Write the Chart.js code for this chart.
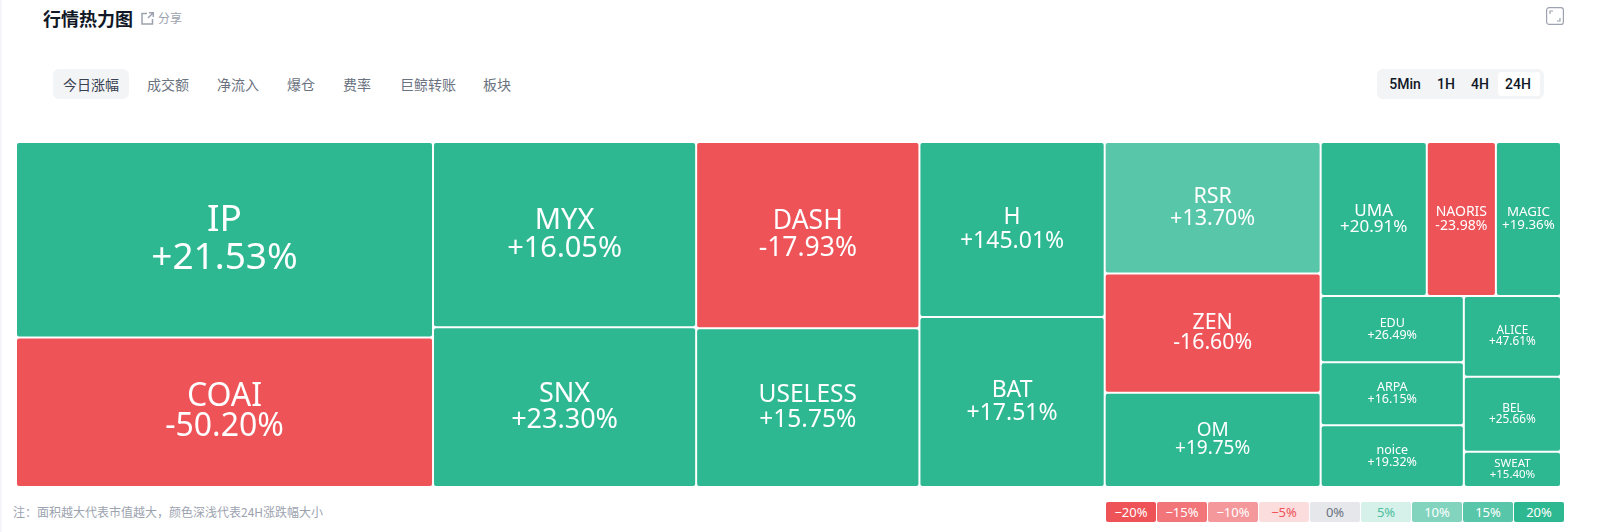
<!DOCTYPE html>
<html lang="zh-CN"><head><meta charset="utf-8">
<script src="https://cdn.jsdelivr.net/npm/chart.js@4/dist/chart.umd.js"></script>
<style>
html,body{margin:0;padding:0;background:#fff;width:1609px;height:532px;overflow:hidden;font-family:"Noto Sans CJK SC","Noto Sans",sans-serif}
.a{position:absolute;white-space:nowrap}
#edge{left:0;top:0;width:2px;height:532px;background:#F5F6FA}
#title{left:43px;top:5px;font-size:18px;line-height:26px;font-weight:700;color:#111827}
#share{left:158px;top:9px;font-size:12px;line-height:18px;color:#9CA3AF}
#tabOn{left:53px;top:69px;width:76px;height:30px;border-radius:6px;background:#F3F4F6}
.tab{top:73px;font-size:14px;line-height:22px;color:#6B7280}
#rangeBg{left:1377px;top:69px;width:167px;height:30px;border-radius:6px;background:#F3F4F6}
#rangeOn{left:1498px;top:72px;width:42px;height:24px;border-radius:3px;background:#fff}
.rng{top:73px;font-family:Roboto,sans-serif;font-weight:500;font-size:14px;line-height:22px;color:#111827;transform:translateX(-50%)}
#canvasBox{left:16px;top:142px;width:1545px;height:345px}
#note{left:13px;top:503px;font-size:12px;line-height:18px;color:#9CA3AF}
.sw{top:502px;width:50px;height:20px;border-radius:2px;font-size:13px;line-height:20px;text-align:center;font-family:"Noto Sans",sans-serif}
</style></head><body>
<div class="a" id="edge"></div>
<div class="a" id="title">行情热力图</div>
<svg class="a" style="left:141px;top:12px" width="13" height="13" viewBox="0 0 13 13" fill="none" stroke="#9CA3AF" stroke-width="1.5"><path d="M6 1.500H1v10.500h10.500V7M7 6l5-5M8 .8h4.300v4.300"/></svg>
<div class="a" id="share">分享</div>
<div class="a" id="tabOn"></div>
<div id="tabs"></div>
<div class="a" id="rangeBg"></div><div class="a" id="rangeOn"></div>
<div id="ranges"></div>
<svg class="a" style="left:1546px;top:7px" width="18" height="18" viewBox="0 0 18 18" fill="none"><rect x=".6" y=".6" width="16.800" height="16.800" rx="2.500" stroke="#9CA3AF" stroke-width="1.200"/><path d="M4 7V4h3M14 11v3h-3" stroke="#9CA3AF" stroke-width="1.200"/></svg>
<div class="a" id="canvasBox"><canvas id="c" width="1545" height="345"></canvas></div>
<div class="a" id="note">注&#xFF1A;面积越大代表市值越大&#xFF0C;颜色深浅代表24H涨跌幅大小</div>
<div id="legend"></div>
<script>
// ---- data ----
const symbols = ["IP","COAI","MYX","SNX","DASH","USELESS","H","BAT","RSR","ZEN","OM","UMA","NAORIS","MAGIC","EDU","ARPA","noice","ALICE","BEL","SWEAT"];
const changes = [21.53,-50.20,16.05,23.30,-17.93,15.75,145.01,17.51,13.70,-16.60,19.75,20.91,-23.98,19.36,26.49,16.15,19.32,47.61,25.66,15.40];
const marketCaps = [809.3,619.3,484.3,417.1,413.2,351.7,321.9,312.7,281.9,255.8,202.1,162.2,105.6,99.5,94.4,89.5,87.8,78.0,72.4,34.0];
const tabLabels = ["今日涨幅","成交额","净流入","爆仓","费率","巨鲸转账","板块"];
const rangeLabels = ["5Min","1H","4H","24H"];
const legendValues = [-20,-15,-10,-5,0,5,10,15,20];
// grouping of the treemap (symbol indexes; nested lists alternate columns / stacks)
const treeGroups = [[0,1],[2,3],[4,5],[6,7],[8,9,10],[[11,12,13],[[14,15,16],[17,18,19]]]];

// ---- styles ----
const labelStyle = {IP:[37,38],COAI:[32,30],MYX:[29,28],SNX:[27,26.500],DASH:[26.500,26.500],USELESS:[24.500,24.500],H:[23,23.500],BAT:[23,23],RSR:[21.500,21.500],ZEN:[21.300,20],OM:[19,18],UMA:[17,16.500],NAORIS:[14,13.500],MAGIC:[13.300,13],EDU:[12.500,12],ARPA:[12.500,12],noice:[12.500,12],ALICE:[11.800,11],BEL:[11.800,11],SWEAT:[11.500,10.500]};
const RED = "238,83,88", GREEN = "46,184,146";
function tierColor(v){
  const m = Math.abs(v);
  return `rgba(${v<0?RED:GREEN},${m >= 15 ? 1 : .8})`;
}
const legendAlpha = {20:1,15:.8,10:.6,5:.2};

// ---- page furniture ----
const tabX = [63,147,217,287,343,400,483];
tabLabels.forEach((t,i)=>{const d=document.createElement("div");d.className="a tab";d.textContent=t;d.style.left=tabX[i]+"px";if(i===0)d.style.color="#374151";document.getElementById("tabs").appendChild(d);});
const rangeX = [1405,1446,1480,1518];
rangeLabels.forEach((t,i)=>{const d=document.createElement("div");d.className="a rng";d.textContent=t;d.style.left=rangeX[i]+"px";document.getElementById("ranges").appendChild(d);});
legendValues.forEach((v,i)=>{
  const d=document.createElement("div");d.className="a sw";
  d.textContent=(v<0?"−":"")+Math.abs(v)+"%";
  d.style.left=(1106+51*i)+"px";
  d.style.background = v===0 ? "#E5E7EB" : `rgba(${v<0?RED:GREEN},${legendAlpha[Math.abs(v)]})`;
  d.style.color = v===0 ? "#6B7280" : v===-5 ? "#EF5358" : v===5 ? "#4DBE9F" : "#fff";
  document.getElementById("legend").appendChild(d);
});

// ---- slice-and-dice layout in data space: area is proportional to market cap ----
const weightOf = n => Array.isArray(n) ? n.reduce((s,c)=>s+weightOf(c),0) : marketCaps[n];
const cells = [];
const X_MAX = 100, Y_MAX = 100;
function placeNode(node,x0,y0,x1,y1,horizontal){
  if(!Array.isArray(node)){cells.push({i:node,x0,y0,x1,y1});return;}
  const total = weightOf(node); let p = horizontal ? x0 : y0;
  node.forEach(c=>{
    const share = weightOf(c)/total;
    if(horizontal){const w=(x1-x0)*share;placeNode(c,p,y0,p+w,y1,false);p+=w;}
    else{const h=(y1-y0)*share;placeNode(c,x0,p,x1,p+h,true);p+=h;}
  });
}
placeNode(treeGroups,0,0,X_MAX,Y_MAX,true);
cells.sort((a,b)=>a.i-b.i);

// ---- treemap cells: real Chart.js bars placed through the x and y scales ----
class TreemapController extends Chart.BarController {
  updateElements(bars,start,count,mode){
    const {xScale,yScale} = this._cachedMeta;
    for(let i=start;i<start+count;i++){
      const c = this.getDataset().cells[i];
      const l = xScale.getPixelForValue(c.x0), r = xScale.getPixelForValue(c.x1);
      const t = yScale.getPixelForValue(c.y0), b = yScale.getPixelForValue(c.y1);
      this.updateElement(bars[i],i,{
        horizontal:false,x:(l+r)/2,width:r-l,y:t,base:b,height:b-t,
        borderSkipped:{top:false,left:false,bottom:false,right:false},
        enableBorderRadius:true,inflateAmount:0,
        options:this.resolveDataElementOptions(i,mode)
      },mode);
    }
  }
}
TreemapController.id = "treemapCells";
TreemapController.defaults = Chart.BarController.defaults;
TreemapController.overrides = Chart.BarController.overrides;
Chart.register(TreemapController);

const cellLabels = {
  id:"cellLabels",
  afterDatasetsDraw(chart){
    const ctx = chart.ctx, bars = chart.getDatasetMeta(0).data;
    ctx.save();
    ctx.fillStyle="#fff";ctx.textAlign="center";ctx.textBaseline="middle";
    bars.forEach((bar,i)=>{
      const name = symbols[i], v = changes[i], [fs,lh] = labelStyle[name];
      const cy = (bar.y+bar.base)/2;
      ctx.font = `${fs}px "Noto Sans","Open Sans",sans-serif`;
      ctx.fillText(name,bar.x,cy-lh/2);
      ctx.fillText((v>0?"+":"")+v.toFixed(2)+"%",bar.x,cy+lh/2);
    });
    ctx.restore();
  }
};

new Chart(document.getElementById("c"),{
  type:"treemapCells",
  data:{labels:symbols,datasets:[{
    label:"24H",
    cells,
    data:cells.map(c=>({x:(c.x0+c.x1)/2,y:[c.y0,c.y1]})),
    backgroundColor:changes.map(tierColor),
    borderColor:"#fff",borderWidth:1,borderRadius:3
  }]},
  options:{
    responsive:false,animation:false,devicePixelRatio:1,
    layout:{padding:0},
    plugins:{legend:{display:false},tooltip:{enabled:false}},
    scales:{
      x:{type:"linear",min:0,max:X_MAX,offset:false,display:false},
      y:{type:"linear",min:0,max:Y_MAX,reverse:true,display:false,beginAtZero:false}
    }
  },
  plugins:[cellLabels]
});
</script>
</body></html>
